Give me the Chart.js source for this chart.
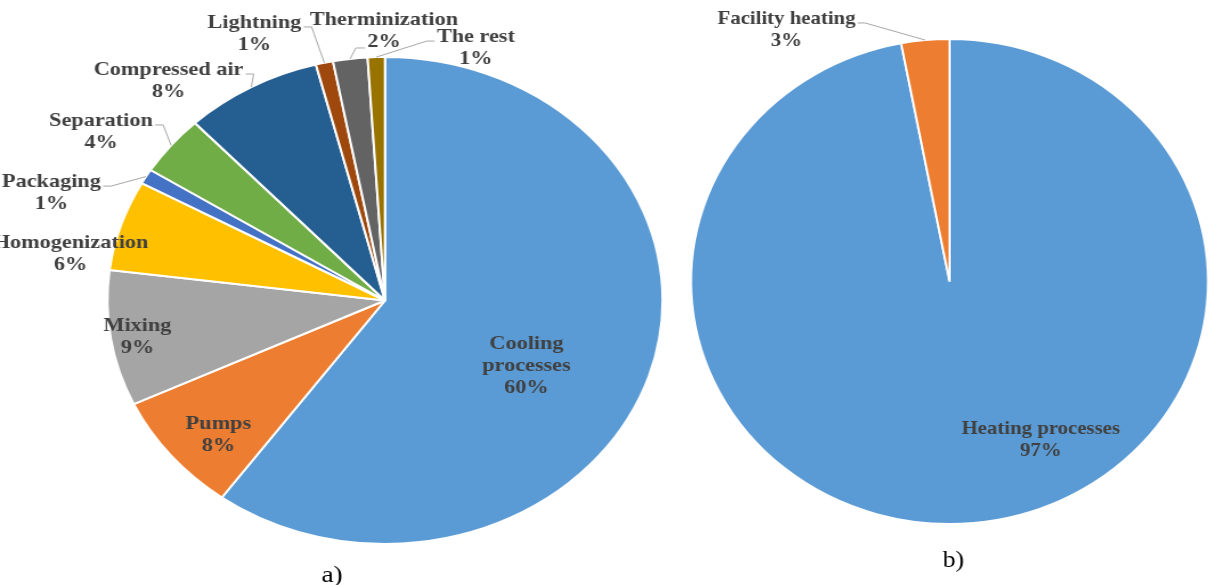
<!DOCTYPE html>
<html>
<head>
<meta charset="utf-8">
<script src="https://cdn.jsdelivr.net/npm/chart.js@4/dist/chart.umd.min.js"></script>
<style>
  html, body { margin: 0; padding: 0; background: #fff; overflow: hidden; }
  body { width: 1212px; height: 585px; position: relative; }
  .panel { position: absolute; top: 0; height: 585px; transform-origin: 0 0; }
  #panelA { left: 0; width: 590px; transform: scaleX(1.14); }
  #panelB { left: 600px; width: 574px; transform: scaleX(1.066); }
</style>
</head>
<body>
<div class="panel" id="panelA"><canvas id="pieA" width="590" height="585"></canvas></div>
<div class="panel" id="panelB"><canvas id="pieB" width="574" height="585"></canvas></div>
<script>
// Panel a: electricity consumption by end use (%)
const elecCategories = [['Cooling', 'processes'], 'Pumps', 'Mixing', 'Homogenization', 'Packaging',
                        'Separation', 'Compressed air', 'Lightning', 'Therminization', 'The rest'];
const elecShares = [60, 8, 9, 6, 1, 4, 8, 1, 2, 1];

// Panel b: thermal energy consumption by end use (%)
const heatCategories = ['Heating processes', 'Facility heating'];
const heatShares = [97, 3];

// Slice colours
const elecColors = ['#5B9BD5', '#ED7D31', '#A5A5A5', '#FFC000', '#4472C4',
                    '#70AD47', '#255E91', '#9E480E', '#636363', '#997300'];
const heatColors = ['#5B9BD5', '#ED7D31'];

// Label placement: distance from centre (fraction of radius), angular shift from slice middle (deg),
// and whether a leader line joins the label to its slice
const elecLabelRadius = [0.572, 0.810, 0.903, 1.150, 1.283, 1.240, 1.198, 1.199, 1.115, 1.095];
const elecLabelShift  = [9, -2.6, 0, -8, -10.1, -5.2, -11.8, -10.5, 7, 19.2];
const elecLeader      = [false, false, false, false, true, true, true, true, true, true];
const heatLabelRadius = [0.735, 1.221];
const heatLabelShift  = [-23.3, -25.7];
const heatLeader      = [false, true];

const LABEL_FONT = 'bold 19.5px "Liberation Serif", "Times New Roman", serif';
const LINE_H = 22;
const TEXT_DROP = 2; // glyphs sit a little below the em-box middle

// Draws "name / value%" data labels, with leader lines for the outer ones
const sliceLabels = {
  id: 'sliceLabels',
  afterDatasetsDraw(chart, args, opts) {
    const ctx = chart.ctx;
    const meta = chart.getDatasetMeta(0);
    const values = chart.data.datasets[0].data;
    ctx.save();
    ctx.font = LABEL_FONT;
    ctx.textAlign = 'center';
    ctx.textBaseline = 'middle';
    meta.data.forEach((arc, i) => {
      const p = arc.getProps(['x', 'y', 'startAngle', 'endAngle', 'outerRadius'], true);
      const mid = (p.startAngle + p.endAngle) / 2;
      const a = mid + opts.shift[i] * Math.PI / 180;
      const rr = opts.radius[i] * p.outerRadius;
      const lx = p.x + Math.cos(a) * rr;
      const ly = p.y + Math.sin(a) * rr;
      const name = chart.data.labels[i];
      const lines = Array.isArray(name) ? name.slice() : [name];
      lines.push(values[i] + '%');
      const widths = lines.map(t => ctx.measureText(t).width);
      const top = ly - lines.length * LINE_H / 2;

      if (opts.leader[i]) {
        const ex = p.x + Math.cos(mid) * p.outerRadius;
        const ey = p.y + Math.sin(mid) * p.outerRadius;
        const w = Math.max(...widths);
        const left = lx - w / 2 - 2, right = lx + w / 2 + 2;
        let sx, sy, hx;
        if (ex > right) {
          sx = right; sy = ly - 5; hx = sx + 7;
        } else if (ex < left) {
          sx = left; sy = ly - 5; hx = sx - 7;
        } else {
          const lw = widths[widths.length - 1];
          sy = top + (lines.length - 0.5) * LINE_H + 8;
          if (ex < lx) { sx = lx - lw / 2 - 2; hx = sx - 8; }
          else { sx = lx + lw / 2 + 2; hx = sx + 8; }
        }
        ctx.beginPath();
        ctx.strokeStyle = '#A6A6A6';
        ctx.lineWidth = 1;
        ctx.moveTo(sx, sy);
        ctx.lineTo(hx, sy);
        ctx.lineTo(ex, ey);
        ctx.stroke();
      }

      ctx.fillStyle = '#404040';
      lines.forEach((t, k) => ctx.fillText(t, lx, top + (k + 0.5) * LINE_H + TEXT_DROP));
    });
    ctx.restore();
  }
};

// Panel caption under each pie
const panelCaption = {
  id: 'panelCaption',
  afterDraw(chart, args, opts) {
    const ctx = chart.ctx;
    const arc = chart.getDatasetMeta(0).data[0];
    ctx.save();
    ctx.font = '24px "Liberation Serif", "Times New Roman", serif';
    ctx.fillStyle = '#000';
    ctx.textAlign = 'center';
    ctx.textBaseline = 'middle';
    ctx.fillText(opts.text, arc.x + opts.dx, opts.y);
    ctx.restore();
  }
};

function makePie(id, labels, data, colors, padding, labelOpts, caption) {
  return new Chart(document.getElementById(id), {
    type: 'pie',
    data: {
      labels: labels,
      datasets: [{ data: data, backgroundColor: colors, borderColor: '#FFFFFF', borderWidth: 2 }]
    },
    options: {
      responsive: false,
      animation: false,
      events: [],
      layout: { padding: padding },
      plugins: {
        legend: { display: false },
        tooltip: { enabled: false },
        sliceLabels: labelOpts,
        panelCaption: caption
      }
    },
    plugins: [sliceLabels, panelCaption]
  });
}

makePie('pieA', elecCategories, elecShares, elecColors,
  { top: 56, bottom: 40, left: 93.2, right: 7.8 },
  { radius: elecLabelRadius, shift: elecLabelShift, leader: elecLeader },
  { text: 'a)', dx: -46.5, y: 576 });

makePie('pieB', heatCategories, heatShares, heatColors,
  { top: 38, bottom: 60, left: 84.4, right: 2.6 },
  { radius: heatLabelRadius, shift: heatLabelShift, leader: heatLeader },
  { text: 'b)', dx: 3.7, y: 561 });
</script>
</body>
</html>
